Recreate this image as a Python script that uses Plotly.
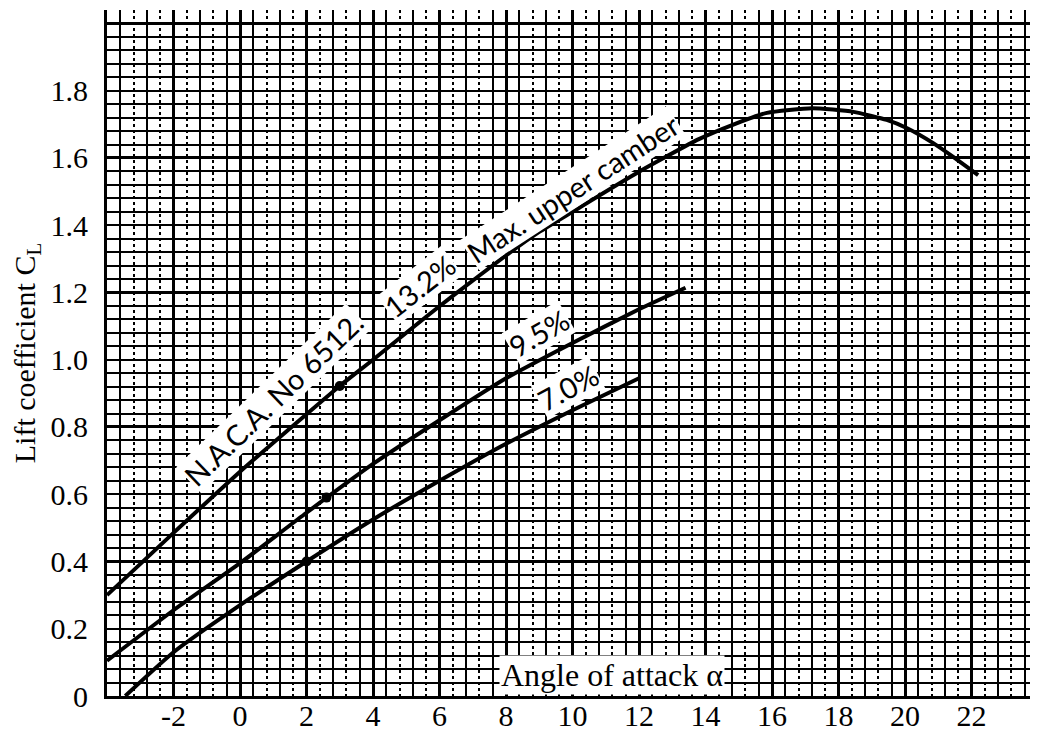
import plotly.graph_objects as go

# ---- data ----
alpha_132 = [-4, -2, 0, 2, 3, 4, 5.6, 6.4, 8, 9, 10, 12, 13.8, 14.8, 15.85, 17.2, 18.45, 19.45, 20.05, 20.85, 21.45, 22.2]
cl_132 = [0.30, 0.485, 0.667, 0.838, 0.922, 1.0, 1.128, 1.19, 1.31, 1.38, 1.44, 1.559, 1.656, 1.698, 1.734, 1.748, 1.737, 1.713, 1.689, 1.644, 1.603, 1.549]

alpha_95 = [-4, -2, 0, 2, 4, 6, 8, 10, 12, 13.4]
cl_95 = [0.105, 0.255, 0.395, 0.545, 0.69, 0.82, 0.945, 1.05, 1.15, 1.214]

alpha_70 = [-3.45, -2, 0, 2, 4, 6, 8, 10, 12]
cl_70 = [0.0, 0.13, 0.27, 0.40, 0.525, 0.64, 0.75, 0.85, 0.945]

mark_alpha = [3.0, 2.6, 2.0]
mark_cl = [0.922, 0.59, 0.40]

x_ticks = [-2, 0, 2, 4, 6, 8, 10, 12, 14, 16, 18, 20, 22]
x_ticktext = ["-2", "0", "2", "4", "6", "8", "10", "12", "14", "16", "18", "20", "22"]
y_ticks = [0, 0.2, 0.4, 0.6, 0.8, 1.0, 1.2, 1.4, 1.6, 1.8]
y_ticktext = ["0", "0.2", "0.4", "0.6", "0.8", "1.0", "1.2", "1.4", "1.6", "1.8"]
y_heavy = [0.4, 0.8, 1.2, 1.6, 2.0]

curve_labels = ["N.A.C.A. No 6512.", "13.2%", "Max. upper camber", "9.5%", "7.0%"]
label_x = [1.0, 5.4, 10.0, 9.0, 9.85]
label_y = [0.885, 1.222, 1.51, 1.08, 0.918]
label_angle = [-44, -38, -33, -30, -28]

SERIF = "Liberation Serif, Times New Roman, serif"
SANS = "Lato, Noto Sans, sans-serif"

fig = go.Figure()

line_style = dict(color="black", width=4, shape="spline", smoothing=0.5)
for xs, ys in [(alpha_132, cl_132), (alpha_95, cl_95), (alpha_70, cl_70)]:
    fig.add_trace(go.Scatter(x=xs, y=ys, mode="lines", line=line_style,
                             showlegend=False, hoverinfo="skip"))

fig.add_trace(go.Scatter(x=mark_alpha, y=mark_cl, mode="markers",
                         marker=dict(color="black", size=10),
                         showlegend=False, hoverinfo="skip"))

# helper traces so the overlay grid axes are drawn
fig.add_trace(go.Scatter(x=[-4], y=[0], xaxis="x", yaxis="y2", mode="markers",
                         marker=dict(size=1, opacity=0),
                         showlegend=False, hoverinfo="skip"))
fig.add_trace(go.Scatter(x=[-4], y=[0], xaxis="x2", yaxis="y", mode="markers",
                         marker=dict(size=1, opacity=0),
                         showlegend=False, hoverinfo="skip"))

for t, x, y, a in zip(curve_labels, label_x, label_y, label_angle):
    fig.add_annotation(x=x, y=y, xref="x", yref="y", text=t, textangle=a,
                       showarrow=False, bgcolor="white", borderpad=0,
                       font=dict(family=SANS, size=29, color="black"))

fig.add_annotation(x=11.2, y=0.062, xref="x", yref="y", text="Angle of attack α",
                   showarrow=False, bgcolor="white", borderpad=1,
                   font=dict(family=SERIF, size=32, color="black"))

# the page body has an 8px margin, so the figure is 8px smaller than the window
fig.update_layout(
    width=1030, height=726,
    margin=dict(l=99, r=0, t=2, b=38, autoexpand=False),
    paper_bgcolor="white", plot_bgcolor="white",
    xaxis=dict(
        range=[-4, 24], tickmode="array", tickvals=x_ticks, ticktext=x_ticktext,
        ticks="", showline=True, linecolor="black", linewidth=3,
        showgrid=True, gridcolor="black", gridwidth=3,
        zeroline=False, automargin=False, ticklabelstandoff=-9,
        tickfont=dict(family=SERIF, size=30, color="black"),
        minor=dict(tick0=0, dtick=0.4, showgrid=True, gridcolor="black",
                   gridwidth=2, griddash="dot"),
    ),
    xaxis2=dict(
        range=[-4, 24], overlaying="x", tickmode="linear", tick0=-3.6, dtick=0.8,
        showticklabels=False, ticks="", showline=False, zeroline=False,
        showgrid=True, gridcolor="black", gridwidth=1.5,
    ),
    yaxis=dict(
        range=[0, 2.04], tickmode="array", tickvals=y_ticks, ticktext=y_ticktext,
        ticks="", showline=True, linecolor="black", linewidth=3,
        showgrid=True, gridcolor="black", gridwidth=1.5,
        zeroline=False, ticklabelstandoff=10, automargin=False,
        tickfont=dict(family=SERIF, size=30, color="black"),
        title=dict(text="Lift coefficient C<sub>L</sub>", standoff=10,
                   font=dict(family=SERIF, size=30, color="black")),
        minor=dict(tick0=0, dtick=0.04, showgrid=True, gridcolor="black",
                   gridwidth=1.5, griddash="solid"),
    ),
    yaxis2=dict(
        range=[0, 2.04], overlaying="y", tickmode="array", tickvals=y_heavy,
        showticklabels=False, ticks="", showline=False, zeroline=False,
        showgrid=True, gridcolor="black", gridwidth=3,
    ),
)

fig.write_html("out.html")
